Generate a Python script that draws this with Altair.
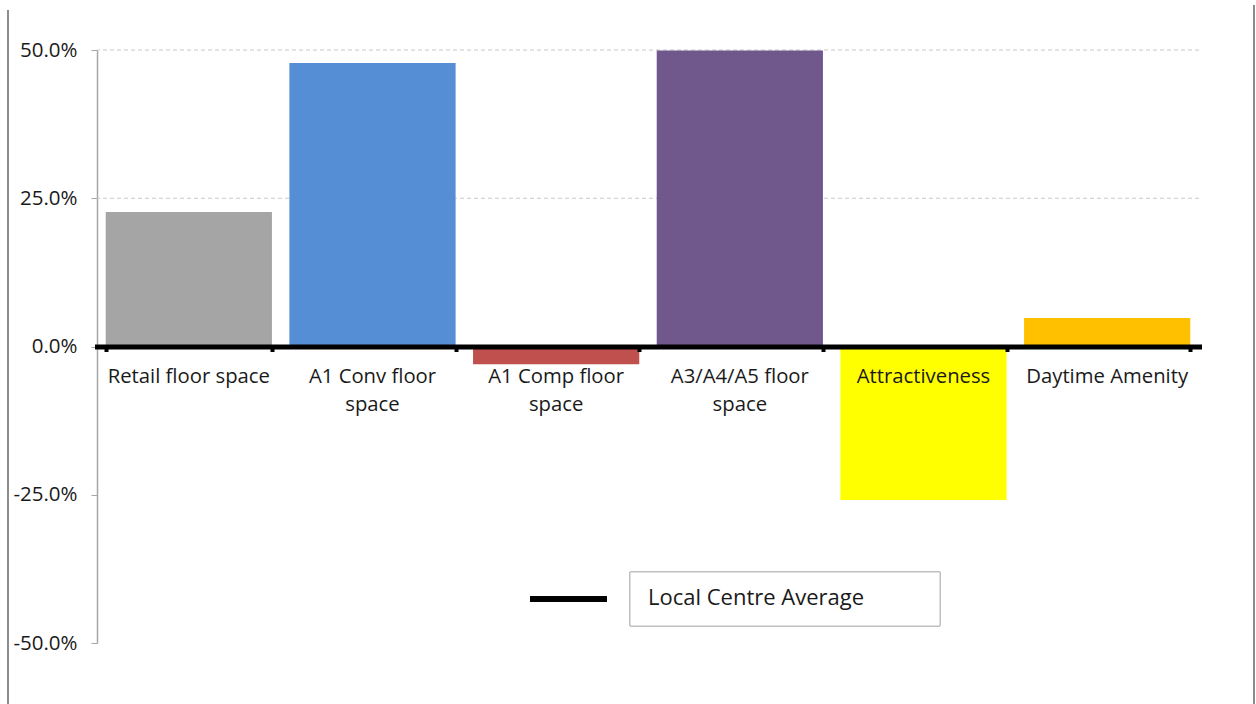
import altair as alt
import pandas as pd

# Difference from the local centre average, per indicator
categories = [
    "Retail floor space",
    "A1 Conv floor space",
    "A1 Comp floor space",
    "A3/A4/A5 floor space",
    "Attractiveness",
    "Daytime Amenity",
]
display_labels = [
    "Retail floor space",
    "A1 Conv floor\nspace",
    "A1 Comp floor\nspace",
    "A3/A4/A5 floor\nspace",
    "Attractiveness",
    "Daytime Amenity",
]
values = [0.227, 0.478, -0.030, 0.499, -0.259, 0.048]
bar_colors = ["#A5A5A5", "#558ED5", "#C0504D", "#70588D", "#FFFF00", "#FFC000"]

grid_values = [0.25, 0.5]
legend_label = "Local Centre Average"

FONT = "Open Sans"
W, H = 1102, 593

df = pd.DataFrame({"category": categories, "label": display_labels, "value": values})
grid_df = pd.DataFrame({"g": grid_values})

x_scale = alt.Scale(domain=categories, paddingInner=0.095, paddingOuter=0.0475)
y_scale = alt.Scale(domain=[-0.5, 0.5], nice=False, zero=False)

y_axis = alt.Axis(
    values=[-0.5, -0.25, 0, 0.25, 0.5],
    labelExpr="replace(format(datum.value, '.1%'), '\u2212', '-')",
    grid=False,
    domainColor="#A6A6A6",
    domainWidth=1.5,
    tickColor="#A6A6A6",
    tickSize=6,
    labelPadding=14,
    labelFontSize=20.5,
    labelFont=FONT,
    labelColor="#1A1A1A",
    title=None,
)

x_axis = alt.Axis(
    orient="bottom",
    offset=-296.5,
    labels=False,
    title=None,
    domainColor="black",
    domainWidth=5,
    domainCap="square",
    tickColor="black",
    tickWidth=4,
    tickSize=5,
    tickBand="extent",
    zindex=2,
)

grid = alt.Chart(grid_df).mark_rule(
    color="#C8C8C8", strokeDash=[4, 3], strokeWidth=1
).encode(y=alt.Y("g:Q", scale=y_scale, axis=y_axis))

bars = alt.Chart(df).mark_bar().encode(
    x=alt.X("category:N", sort=categories, scale=x_scale, axis=x_axis),
    y=alt.Y("value:Q", scale=y_scale, axis=y_axis),
    y2=alt.datum(0),
    color=alt.Color("category:N", sort=categories,
                    scale=alt.Scale(domain=categories, range=bar_colors), legend=None),
)

labels = alt.Chart(df).mark_text(
    baseline="top", align="center", dy=20, lineBreak="\n", lineHeight=28,
    font=FONT, fontSize=20.3, color="#1A1A1A",
).encode(
    x=alt.X("category:N", sort=categories, scale=x_scale),
    y=alt.datum(0),
    text="label:N",
)

# legend: thick line sample and boxed caption
legend_line = alt.Chart(df).mark_rule(color="black", strokeWidth=5).encode(
    x=alt.value(433), x2=alt.value(510), y=alt.value(549)
)
legend_box = alt.Chart(df).mark_rect(
    fill="white", stroke="#BFBFBF", strokeWidth=1
).encode(x=alt.value(533), x2=alt.value(843), y=alt.value(522), y2=alt.value(576))
legend_text = alt.Chart(pd.DataFrame({"t": [legend_label]})).mark_text(
    align="left", baseline="middle", font=FONT, fontSize=22, color="#1A1A1A"
).encode(x=alt.value(551), y=alt.value(548), text="t:N")

# chart frame edges
frame_left = alt.Chart(df).mark_rule(color="#8C8C8C", strokeWidth=2).encode(
    x=alt.value(-89), y=alt.value(-40), y2=alt.value(654)
)
frame_right = alt.Chart(df).mark_rule(color="#8C8C8C", strokeWidth=2).encode(
    x=alt.value(1157), y=alt.value(-45), y2=alt.value(654)
)

chart = alt.layer(
    grid, bars, labels, legend_line, legend_box, legend_text, frame_left, frame_right
).properties(
    width=W,
    height=H,
    padding={"left": 97, "top": 50, "right": 57, "bottom": 61},
    autosize=alt.AutoSizeParams(type="none"),
    background="white",
).configure_view(stroke=None)

chart.save("out.html", embed_options={"renderer": "svg", "actions": False})
